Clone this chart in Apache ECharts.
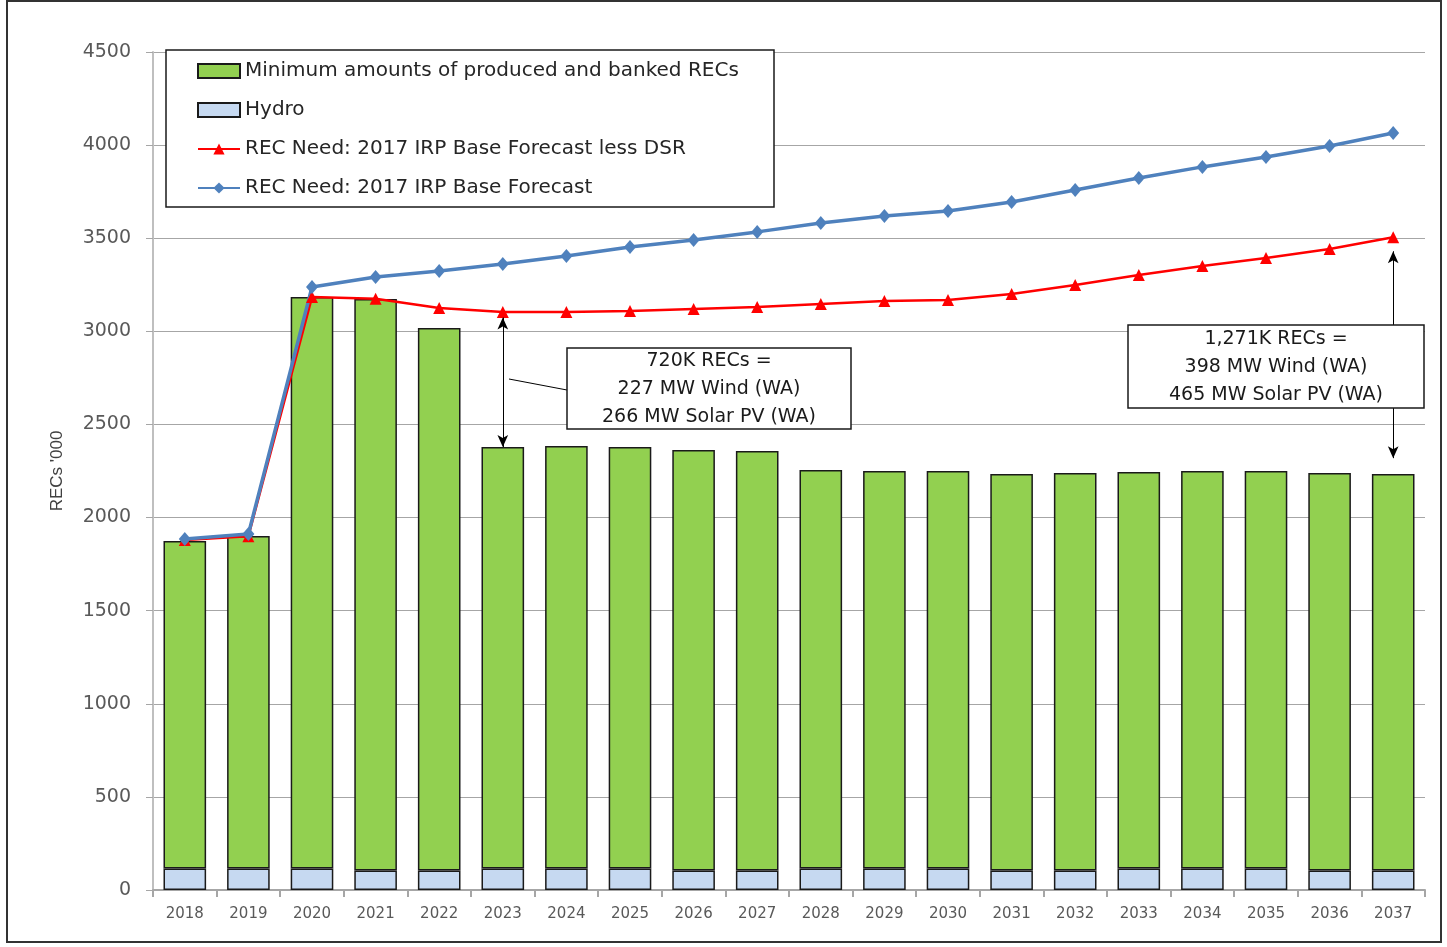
<!DOCTYPE html>
<html>
<head>
<meta charset="utf-8">
<title>REC need vs produced and banked RECs</title>
<script src="https://cdn.jsdelivr.net/npm/echarts@6/dist/echarts.min.js"></script>
<style>
  html, body { margin: 0; padding: 0; background: #fff; }
  #chart { width: 1447px; height: 947px; }
</style>
</head>
<body>
<div id="chart"></div>
<script>
// data (RECs '000)
const years = ['2018','2019','2020','2021','2022','2023','2024','2025','2026','2027',
  '2028','2029','2030','2031','2032','2033','2034','2035','2036','2037'];
const hydro = [115,115,115,105,105,115,115,115,105,105,115,115,115,105,105,115,115,115,105,105];
const banked = [1759,1786,3069,3069,2913,2264,2269,2264,2258,2252,2140,2135,2135,2129,2134,2130,2135,2135,2134,2129];
const needLessDsr = [1880,1900,3184,3175,3125,3104,3104,3109,3120,3131,3147,3163,3168,3200,3249,3303,3351,3394,3442,3505];
const needBase = [1885,1912,3238,3292,3324,3362,3405,3453,3491,3534,3582,3619,3646,3695,3759,3823,3883,3936,3995,4065];
const yTicks = [0,500,1000,1500,2000,2500,3000,3500,4000,4500];

const names = {
  banked: 'Minimum amounts of produced and banked RECs',
  hydro: 'Hydro',
  less: 'REC Need: 2017 IRP Base Forecast less DSR',
  base: 'REC Need: 2017 IRP Base Forecast'
};

// gap arrows: from the need line down to the bar top
function total(i) { return hydro[i] + banked[i]; }
const gapA = years.indexOf('2023');
const gapB = years.indexOf('2037');

const myChart = echarts.init(document.getElementById('chart'));
myChart.setOption({
  animation: false,
  textStyle: { fontFamily: 'DejaVu Sans' },
  grid: { left: 153, right: 22, top: 52, bottom: 57 },
  legend: {
    orient: 'vertical',
    left: 192,
    top: 56,
    itemWidth: 42,
    itemHeight: 14,
    itemGap: 19,
    z: 5,
    data: [
      { name: names.banked, icon: 'rect' },
      { name: names.hydro, icon: 'rect' },
      names.less,
      names.base
    ],
    textStyle: { fontSize: 20, color: '#262626', fontFamily: 'DejaVu Sans' }
  },
  xAxis: {
    type: 'category',
    data: years,
    axisLine: { lineStyle: { color: '#A6A6A6', width: 2 } },
    axisTick: { show: true, length: 7, lineStyle: { color: '#A6A6A6', width: 2 } },
    axisLabel: { fontSize: 15, color: '#595959', margin: 17 }
  },
  yAxis: {
    type: 'value',
    min: yTicks[0],
    max: yTicks[yTicks.length - 1],
    interval: 500,
    name: "RECs '000",
    nameLocation: 'middle',
    nameGap: 87,
    nameTextStyle: { fontSize: 17, color: '#404040', fontFamily: 'Liberation Sans' },
    axisLine: { show: true, lineStyle: { color: '#BFBFBF', width: 2 } },
    axisTick: { show: true, length: 7, lineStyle: { color: '#A6A6A6' } },
    axisLabel: { fontSize: 19, color: '#595959', margin: 22, formatter: function (v) { return String(v); } },
    splitLine: { lineStyle: { color: '#A6A6A6', width: 1 } }
  },
  series: [
    {
      name: names.hydro,
      type: 'bar',
      stack: 'recs',
      barWidth: '67%',
      data: hydro,
      itemStyle: { color: '#C6D9F1', borderColor: '#1a1a1a', borderWidth: 1.5 }
    },
    {
      name: names.banked,
      type: 'bar',
      stack: 'recs',
      barWidth: '67%',
      data: banked,
      itemStyle: { color: '#92D050', borderColor: '#1a1a1a', borderWidth: 1.5 }
    },
    {
      name: names.less,
      type: 'line',
      data: needLessDsr,
      symbol: 'triangle',
      symbolSize: 12,
      itemStyle: { color: '#FF0000' },
      lineStyle: { color: '#FF0000', width: 2.5 },
      markLine: {
        silent: true,
        symbol: ['arrow', 'arrow'],
        symbolSize: [8, 12],
        label: { show: false },
        lineStyle: { color: '#000', width: 1, type: 'solid' },
        data: [
          [{ coord: [years[gapA], needLessDsr[gapA] - 30] }, { coord: [years[gapA], total(gapA)] }],
          [{ coord: [years[gapB], needLessDsr[gapB] - 75] }, { coord: [years[gapB], total(gapB) + 85] }]
        ]
      }
    },
    {
      name: names.base,
      type: 'line',
      data: needBase,
      symbol: 'diamond',
      symbolSize: [12, 14],
      itemStyle: { color: '#4F81BD' },
      lineStyle: { color: '#4F81BD', width: 3.5 }
    }
  ],
  graphic: [
    // outer frame
    { type: 'rect', z: 0, shape: { x: 7, y: 1, width: 1434, height: 941 },
      style: { fill: 'none', stroke: '#333', lineWidth: 2 } },
    // legend box
    { type: 'rect', z: 4, shape: { x: 166, y: 50, width: 608, height: 157 },
      style: { fill: '#fff', stroke: '#1a1a1a', lineWidth: 1.5 } },
    // callout 1
    { type: 'line', z: 10, shape: { x1: 509, y1: 379, x2: 567, y2: 390 },
      style: { stroke: '#000', lineWidth: 1 } },
    { type: 'rect', z: 10, shape: { x: 567, y: 348, width: 284, height: 81 },
      style: { fill: '#fff', stroke: '#1a1a1a', lineWidth: 1.5 } },
    { type: 'text', z: 11, x: 709, y: 389,
      style: { text: '720K RECs =\n227 MW Wind (WA)\n266 MW Solar PV (WA)', align: 'center',
        verticalAlign: 'middle', lineHeight: 28, fontSize: 19, fill: '#1a1a1a', fontFamily: 'DejaVu Sans' } },
    // callout 2
    { type: 'rect', z: 10, shape: { x: 1128, y: 325, width: 296, height: 83 },
      style: { fill: '#fff', stroke: '#1a1a1a', lineWidth: 1.5 } },
    { type: 'text', z: 11, x: 1276, y: 367,
      style: { text: '1,271K RECs =\n398 MW Wind (WA)\n465 MW Solar PV (WA)', align: 'center',
        verticalAlign: 'middle', lineHeight: 28, fontSize: 19, fill: '#1a1a1a', fontFamily: 'DejaVu Sans' } }
  ]
});
</script>
</body>
</html>
